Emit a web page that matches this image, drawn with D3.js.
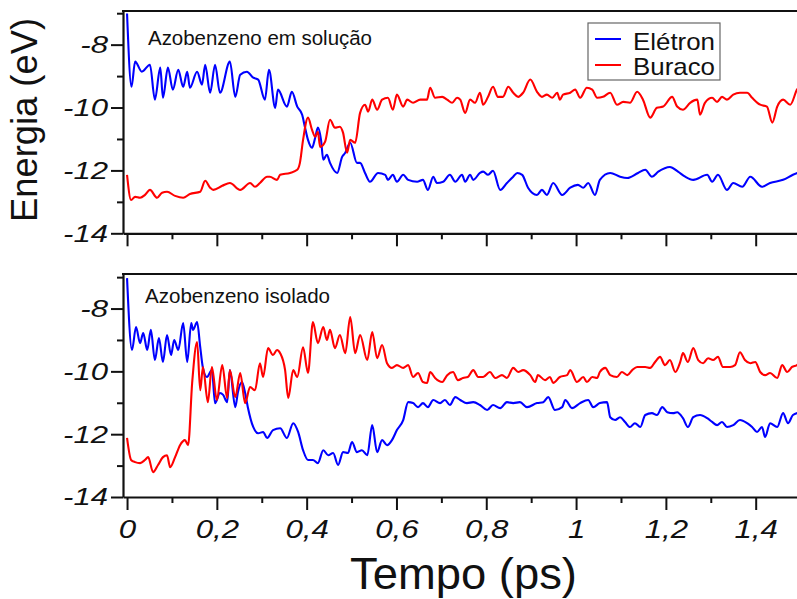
<!DOCTYPE html>
<html><head><meta charset="utf-8">
<script src="https://cdnjs.cloudflare.com/ajax/libs/d3/7.8.5/d3.min.js"></script>
<style>
html,body{margin:0;padding:0;background:#fff;}
svg{display:block;}
</style></head>
<body>
<script>
// ---- data (tempo em ps, energia em eV) ----
const seriesNames = ["Elétron", "Buraco"];
const panelTitles = ["Azobenzeno em solução", "Azobenzeno isolado"];
const xMajorTicks = [0, 0.2, 0.4, 0.6, 0.8, 1, 1.2, 1.4];
const xMinorTicks = [0.1, 0.3, 0.5, 0.7, 0.9, 1.1, 1.3, 1.5];
const yMajorTicks = [-8, -10, -12, -14];
const yMinorTicks = [-7, -9, -11, -13];

const solElectron = [[0,-7.01],[0.010,-9.34],[0.018,-8.54],[0.033,-8.86],[0.051,-8.64],[0.062,-9.75],[0.074,-8.73],[0.080,-9.69],[0.091,-8.73],[0.102,-9.43],[0.114,-8.80],[0.125,-9.34],[0.134,-8.86],[0.140,-9.37],[0.156,-8.86],[0.167,-9.27],[0.174,-8.64],[0.185,-9.53],[0.196,-8.64],[0.207,-9.53],[0.229,-8.54],[0.241,-9.66],[0.252,-8.96],[0.267,-8.86],[0.281,-9.05],[0.292,-9.11],[0.307,-9.75],[0.316,-8.80],[0.330,-10.01],[0.336,-9.43],[0.356,-9.97],[0.367,-9.50],[0.379,-9.97],[0.390,-10.23],[0.396,-10.61],[0.403,-11.03],[0.412,-11.28],[0.419,-10.96],[0.425,-10.64],[0.432,-11.03],[0.437,-11.66],[0.445,-11.50],[0.452,-11.76],[0.468,-12.08],[0.479,-11.57],[0.486,-11.44],[0.497,-11.12],[0.512,-11.76],[0.519,-11.76],[0.530,-12.08],[0.541,-12.36],[0.559,-12.08],[0.575,-12.14],[0.581,-12.30],[0.592,-12.14],[0.601,-12.36],[0.615,-12.14],[0.626,-12.30],[0.646,-12.36],[0.659,-12.30],[0.670,-12.62],[0.682,-12.20],[0.690,-12.40],[0.704,-12.36],[0.719,-12.14],[0.731,-12.36],[0.746,-12.14],[0.753,-12.36],[0.764,-12.14],[0.771,-12.30],[0.786,-12.08],[0.793,-12.04],[0.804,-12.14],[0.815,-12.01],[0.831,-12.62],[0.846,-12.40],[0.860,-12.20],[0.869,-12.08],[0.880,-12.14],[0.893,-12.55],[0.913,-12.78],[0.924,-12.62],[0.935,-12.78],[0.949,-12.40],[0.969,-12.78],[0.987,-12.55],[1.004,-12.46],[1.016,-12.55],[1.027,-12.40],[1.042,-12.78],[1.053,-12.30],[1.076,-12.08],[1.098,-12.20],[1.114,-12.24],[1.138,-12.08],[1.154,-11.98],[1.169,-12.20],[1.183,-12.04],[1.209,-11.89],[1.227,-12.04],[1.243,-12.20],[1.261,-12.30],[1.292,-12.14],[1.303,-12.36],[1.316,-12.14],[1.336,-12.62],[1.350,-12.40],[1.370,-12.52],[1.388,-12.20],[1.414,-12.52],[1.432,-12.40],[1.461,-12.30],[1.483,-12.14],[1.5,-12.04]];

const solHole = [[0,-12.14],[0.009,-12.94],[0.018,-12.84],[0.029,-12.87],[0.040,-12.78],[0.051,-12.62],[0.067,-12.87],[0.078,-12.71],[0.089,-12.68],[0.107,-12.81],[0.125,-12.87],[0.140,-12.75],[0.163,-12.68],[0.174,-12.33],[0.185,-12.55],[0.192,-12.62],[0.212,-12.49],[0.229,-12.40],[0.252,-12.62],[0.274,-12.40],[0.285,-12.52],[0.296,-12.40],[0.312,-12.20],[0.318,-12.20],[0.334,-12.30],[0.341,-12.14],[0.363,-12.08],[0.379,-11.98],[0.385,-11.76],[0.392,-11.03],[0.403,-10.32],[0.412,-10.71],[0.419,-10.93],[0.425,-10.77],[0.430,-11.25],[0.441,-11.09],[0.452,-10.39],[0.463,-10.64],[0.474,-10.61],[0.481,-10.80],[0.490,-11.44],[0.497,-11.03],[0.508,-11.12],[0.519,-10.17],[0.530,-9.91],[0.537,-10.13],[0.546,-9.75],[0.557,-10.07],[0.568,-9.75],[0.581,-9.69],[0.592,-10.07],[0.601,-9.59],[0.615,-9.97],[0.624,-9.75],[0.637,-9.85],[0.653,-9.75],[0.668,-9.75],[0.675,-9.37],[0.686,-9.69],[0.702,-9.66],[0.713,-9.75],[0.724,-9.85],[0.735,-9.69],[0.742,-9.75],[0.753,-10.17],[0.764,-9.75],[0.775,-9.85],[0.786,-9.53],[0.793,-9.91],[0.804,-9.66],[0.815,-9.34],[0.826,-9.66],[0.837,-9.66],[0.849,-9.34],[0.860,-9.53],[0.871,-9.66],[0.882,-9.53],[0.898,-9.11],[0.913,-9.50],[0.924,-9.66],[0.935,-9.59],[0.947,-9.69],[0.958,-9.53],[0.964,-9.75],[0.971,-9.59],[0.987,-9.53],[0.998,-9.43],[1.009,-9.69],[1.024,-9.37],[1.036,-9.43],[1.047,-9.69],[1.060,-9.66],[1.076,-9.53],[1.091,-9.91],[1.105,-9.82],[1.120,-9.85],[1.136,-9.50],[1.149,-9.75],[1.165,-10.32],[1.180,-10.01],[1.194,-9.97],[1.214,-9.66],[1.225,-9.97],[1.238,-10.07],[1.254,-9.85],[1.270,-9.75],[1.276,-10.23],[1.287,-9.85],[1.303,-9.69],[1.314,-9.82],[1.325,-9.66],[1.336,-9.75],[1.350,-9.59],[1.365,-9.53],[1.381,-9.53],[1.392,-9.69],[1.410,-9.91],[1.425,-9.97],[1.437,-10.48],[1.448,-9.97],[1.461,-9.75],[1.477,-9.91],[1.492,-9.43],[1.5,-9.27]];

const isoElectron = [[0,-7.03],[0.011,-9.32],[0.020,-8.59],[0.029,-9.10],[0.036,-8.78],[0.045,-9.32],[0.053,-8.68],[0.062,-9.64],[0.071,-8.94],[0.080,-9.70],[0.089,-8.84],[0.098,-9.48],[0.105,-9.00],[0.114,-9.32],[0.125,-8.46],[0.134,-9.70],[0.143,-8.46],[0.147,-8.68],[0.156,-8.43],[0.163,-9.23],[0.169,-9.89],[0.178,-10.18],[0.189,-9.96],[0.196,-11.01],[0.207,-10.69],[0.214,-10.75],[0.223,-10.98],[0.229,-9.96],[0.241,-11.14],[0.247,-10.66],[0.256,-10.34],[0.263,-10.69],[0.269,-11.14],[0.281,-11.77],[0.292,-11.97],[0.303,-11.93],[0.312,-12.12],[0.325,-11.87],[0.341,-11.81],[0.356,-12.12],[0.370,-11.65],[0.381,-11.93],[0.392,-12.51],[0.403,-12.82],[0.414,-12.82],[0.425,-12.92],[0.437,-12.51],[0.448,-12.67],[0.459,-12.60],[0.470,-12.98],[0.481,-12.57],[0.492,-12.60],[0.501,-12.25],[0.512,-12.57],[0.523,-12.51],[0.535,-12.67],[0.546,-11.71],[0.557,-12.57],[0.568,-12.19],[0.579,-12.35],[0.590,-12.19],[0.601,-11.87],[0.615,-11.55],[0.626,-10.98],[0.637,-11.01],[0.648,-11.14],[0.659,-11.01],[0.670,-11.14],[0.682,-10.91],[0.697,-11.01],[0.708,-10.91],[0.719,-11.07],[0.731,-10.82],[0.742,-10.91],[0.757,-11.01],[0.771,-10.98],[0.786,-11.07],[0.802,-11.23],[0.815,-11.07],[0.831,-11.17],[0.846,-10.98],[0.860,-11.01],[0.875,-10.98],[0.891,-11.14],[0.913,-11.01],[0.927,-10.98],[0.938,-10.82],[0.953,-11.23],[0.969,-11.14],[0.976,-10.91],[0.991,-11.17],[1.009,-11.01],[1.027,-10.91],[1.038,-11.14],[1.053,-11.01],[1.069,-10.98],[1.076,-11.46],[1.087,-11.55],[1.098,-11.46],[1.109,-11.61],[1.120,-11.77],[1.131,-11.65],[1.143,-11.77],[1.154,-11.39],[1.169,-11.33],[1.180,-11.39],[1.192,-11.14],[1.203,-11.30],[1.216,-11.33],[1.225,-11.30],[1.238,-11.49],[1.249,-11.77],[1.261,-11.46],[1.276,-11.39],[1.292,-11.49],[1.303,-11.61],[1.314,-11.71],[1.325,-11.61],[1.336,-11.77],[1.350,-11.71],[1.365,-11.55],[1.381,-11.65],[1.392,-11.77],[1.403,-11.93],[1.414,-11.77],[1.421,-12.09],[1.432,-11.65],[1.448,-11.77],[1.461,-11.33],[1.472,-11.65],[1.483,-11.39],[1.5,-11.30]];

const isoHole = [[0,-12.12],[0.009,-12.82],[0.018,-12.89],[0.029,-12.92],[0.040,-12.82],[0.047,-12.73],[0.058,-13.21],[0.069,-12.98],[0.080,-12.73],[0.089,-12.67],[0.096,-13.05],[0.107,-12.73],[0.118,-12.35],[0.129,-12.19],[0.136,-12.35],[0.145,-10.37],[0.156,-9.07],[0.163,-10.60],[0.169,-9.86],[0.180,-10.98],[0.189,-9.86],[0.200,-10.91],[0.212,-9.80],[0.223,-10.85],[0.229,-9.96],[0.241,-10.82],[0.252,-10.05],[0.263,-11.01],[0.274,-10.50],[0.285,-10.60],[0.296,-9.74],[0.303,-10.18],[0.314,-9.26],[0.325,-9.48],[0.334,-9.32],[0.341,-9.42],[0.352,-9.96],[0.359,-10.85],[0.370,-9.96],[0.379,-10.18],[0.392,-9.23],[0.403,-10.05],[0.414,-8.43],[0.425,-9.10],[0.437,-8.59],[0.445,-9.00],[0.452,-8.68],[0.463,-9.26],[0.474,-8.84],[0.486,-9.42],[0.497,-8.27],[0.508,-9.42],[0.519,-8.84],[0.535,-9.64],[0.546,-8.75],[0.557,-9.58],[0.568,-9.16],[0.579,-9.74],[0.590,-9.89],[0.601,-9.80],[0.615,-9.89],[0.626,-9.80],[0.637,-10.18],[0.648,-10.05],[0.659,-10.34],[0.668,-10.37],[0.675,-10.02],[0.686,-10.21],[0.702,-10.34],[0.713,-10.12],[0.726,-10.02],[0.737,-10.28],[0.748,-10.21],[0.759,-10.18],[0.771,-9.96],[0.782,-10.18],[0.793,-10.18],[0.808,-10.02],[0.820,-10.21],[0.835,-10.12],[0.846,-10.21],[0.860,-9.89],[0.871,-10.02],[0.882,-9.96],[0.898,-10.12],[0.909,-10.34],[0.915,-10.12],[0.931,-10.28],[0.942,-10.18],[0.949,-10.37],[0.964,-10.18],[0.980,-10.12],[0.987,-9.96],[1.002,-10.34],[1.016,-10.18],[1.024,-10.34],[1.036,-10.18],[1.047,-10.21],[1.053,-10.02],[1.065,-9.89],[1.076,-10.12],[1.091,-10.18],[1.102,-10.02],[1.114,-10.12],[1.125,-9.96],[1.136,-9.86],[1.154,-9.86],[1.165,-9.89],[1.176,-9.70],[1.187,-9.54],[1.198,-9.80],[1.209,-9.64],[1.221,-10.02],[1.232,-9.70],[1.238,-9.42],[1.249,-9.70],[1.261,-9.26],[1.272,-9.64],[1.283,-9.74],[1.294,-9.58],[1.305,-9.64],[1.316,-9.54],[1.327,-9.86],[1.343,-9.86],[1.354,-9.80],[1.365,-9.39],[1.376,-9.64],[1.388,-9.74],[1.399,-9.70],[1.410,-10.02],[1.421,-10.12],[1.432,-10.05],[1.448,-10.21],[1.459,-9.80],[1.470,-10.02],[1.481,-9.86],[1.492,-9.80],[1.5,-9.70]];

// ---- layout ----
const W = 797, H = 599;
const colors = ["#0000ff", "#ff0000"];
const panels = [
  {title: panelTitles[0], series: [solElectron, solHole], top: 11, bottom: 233.3, yTop: -6.93, labels: false, legend: true, titleY: 45, titleX: 148, titleLen: 224},
  {title: panelTitles[1], series: [isoElectron, isoHole], top: 274, bottom: 497, yTop: -6.9, labels: true, legend: false, titleY: 303, titleX: 145, titleLen: 185}
];
const left = 123, right = W;
const x = d3.scaleLinear().domain([-0.009, 1.492]).range([left, right]);
const fmt = d => String(d).replace(".", ",");

const svg = d3.select("body").append("svg").attr("width", W).attr("height", H)
  .style("font-family", "'Liberation Sans', Arial, sans-serif");
svg.append("rect").attr("width", W).attr("height", H).attr("fill", "#fff");

panels.forEach((p, i) => {
  const y = d3.scaleLinear().domain([-14, p.yTop]).range([p.bottom, p.top]);
  const g = svg.append("g");
  const clipId = "clip" + i;
  svg.append("clipPath").attr("id", clipId).append("rect")
    .attr("x", left).attr("y", p.top).attr("width", right - left).attr("height", p.bottom - p.top);

  // lines
  const line = d3.line().x(d => x(d[0])).y(d => y(d[1])).curve(d3.curveMonotoneX);
  p.series.forEach((s, k) => {
    g.append("path").datum(s).attr("d", line).attr("fill", "none")
      .attr("stroke", colors[k]).attr("stroke-width", 2.1).attr("stroke-linejoin", "round")
      .attr("clip-path", `url(#${clipId})`);
  });

  // y axis
  const yAx = g.append("g").attr("transform", `translate(${left},0)`)
    .call(d3.axisLeft(y).tickValues(yMajorTicks).tickSize(12).tickSizeOuter(0).tickPadding(4).tickFormat(d => String(d)));
  yAx.select(".domain").attr("stroke-width", 2.2).attr("stroke", "#111");
  yAx.selectAll(".tick line").attr("stroke-width", 2).attr("stroke", "#111");
  yAx.selectAll(".tick text").attr("x", null)
    .attr("transform", "translate(-15,0) scale(1.27,1)")
    .attr("font-size", 24.5).attr("font-style", "italic").attr("fill", "#111")
    .attr("font-family", "'Liberation Sans', Arial, sans-serif");
  const yMin = g.append("g").attr("transform", `translate(${left},0)`)
    .call(d3.axisLeft(y).tickValues(yMinorTicks).tickSize(6).tickFormat(""));
  yMin.select(".domain").remove();
  yMin.selectAll(".tick line").attr("stroke-width", 2).attr("stroke", "#111");

  // x axis
  const xAx = g.append("g").attr("transform", `translate(0,${p.bottom})`)
    .call(d3.axisBottom(x).tickValues(xMajorTicks).tickSize(13).tickSizeOuter(0).tickPadding(10)
      .tickFormat(p.labels ? fmt : ""));
  xAx.select(".domain").attr("stroke-width", 2.2).attr("stroke", "#111");
  xAx.selectAll(".tick line").attr("stroke-width", 2).attr("stroke", "#111");
  xAx.selectAll(".tick text").attr("transform", "scale(1.25,1)")
    .attr("font-size", 25).attr("font-style", "italic").attr("fill", "#111")
    .attr("font-family", "'Liberation Sans', Arial, sans-serif");
  const xMin = g.append("g").attr("transform", `translate(0,${p.bottom})`)
    .call(d3.axisBottom(x).tickValues(xMinorTicks).tickSize(6).tickFormat(""));
  xMin.select(".domain").remove();
  xMin.selectAll(".tick line").attr("stroke-width", 2).attr("stroke", "#111");

  // top spine
  g.append("line").attr("x1", left - 1).attr("x2", right).attr("y1", p.top).attr("y2", p.top)
    .attr("stroke", "#111").attr("stroke-width", 2.2);

  // title
  g.append("text").attr("x", p.titleX).attr("y", p.titleY).text(p.title)
    .attr("font-size", 20.5).attr("fill", "#111")
    .attr("textLength", p.titleLen).attr("lengthAdjust", "spacingAndGlyphs");

  if (p.legend) {
    const lg = g.append("g");
    lg.append("rect").attr("x", 588).attr("y", 23).attr("width", 132).attr("height", 57)
      .attr("fill", "#fff").attr("stroke", "#666").attr("stroke-width", 1.2);
    seriesNames.forEach((nm, k) => {
      const yy = 39 + k * 26;
      lg.append("line").attr("x1", 595).attr("x2", 621).attr("y1", yy).attr("y2", yy)
        .attr("stroke", colors[k]).attr("stroke-width", 2);
      lg.append("text").attr("x", 633).attr("y", 50 + k * 25).text(nm)
        .attr("font-size", 24).attr("fill", "#111")
        .attr("textLength", 82).attr("lengthAdjust", "spacingAndGlyphs");
    });
  }
});

// axis titles
svg.append("text").attr("transform", "translate(37,120) rotate(-90)")
  .attr("text-anchor", "middle").text("Energia (eV)")
  .attr("font-size", 37).attr("fill", "#111")
  .attr("textLength", 204).attr("lengthAdjust", "spacingAndGlyphs");
svg.append("text").attr("x", 463.5).attr("y", 589)
  .attr("text-anchor", "middle").text("Tempo (ps)")
  .attr("font-size", 44).attr("fill", "#111")
  .attr("textLength", 227).attr("lengthAdjust", "spacingAndGlyphs");
</script>
</body></html>
